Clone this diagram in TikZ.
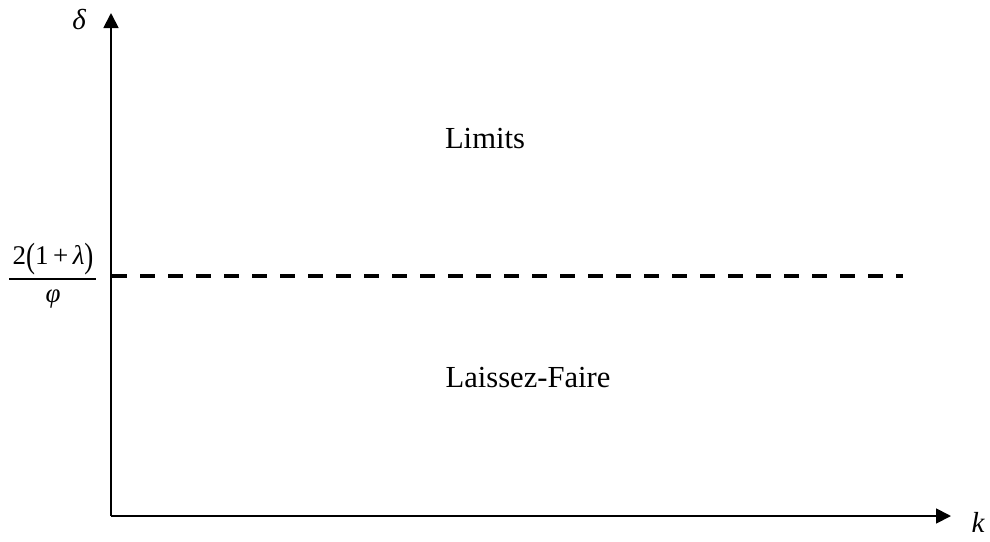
\documentclass[tikz,border=0pt]{standalone}
\usepackage{fontspec}
\usepackage{graphicx}
\setmainfont{Liberation Serif}
\usetikzlibrary{arrows.meta}
\newcommand{\tallparen}[1]{\raisebox{-0.12em}{\scalebox{1}[1.3]{#1}}}
\begin{document}
\begin{tikzpicture}[x=1pt,y=-1pt,
  axis/.style={line width=1.8pt,-{Triangle[length=15pt,width=15pt]}},
  threshold/.style={line width=3.8pt,dash pattern=on 15pt off 13pt},
  region/.style={inner sep=0pt,anchor=base,font=\fontsize{30.6}{36}\selectfont},
  symb/.style={inner sep=0pt,font=\fontsize{29}{34}\selectfont\itshape},
  frac/.style={inner sep=0pt,font=\fontsize{27}{32}\selectfont}]
  \useasboundingbox (0,0) rectangle (990,541);
  % axes
  \coordinate (o) at (111,516);
  \coordinate (ytip) at (111,13);
  \coordinate (xtip) at (951,516);
  \draw[axis] (o) -- (ytip);
  \draw[axis] (o) -- (xtip);
  \node[symb] (dlab) at (79,20) {δ};
  \node[symb] (klab) at (978,522) {k};
  % threshold level 2(1+lambda)/phi
  \coordinate (t0) at (112,276);
  \coordinate (t1) at (903,276);
  \draw[threshold] (t0) -- (t1);
  \node[frac] (num) at (53,259) {2\tallparen{(}1\,+\,\textit{λ}\tallparen{)}};
  \coordinate (barl) at (9,279);
  \coordinate (barr) at (96,279);
  \draw[line width=1.2pt] (barl) -- (barr);
  \node[frac] (den) at (53,299) {\textit{φ}};
  % regions
  \node[region] (lim) at (485,148) {Limits};
  \node[region] (lf) at (528,387) {Laissez-Faire};
\end{tikzpicture}
\end{document}
